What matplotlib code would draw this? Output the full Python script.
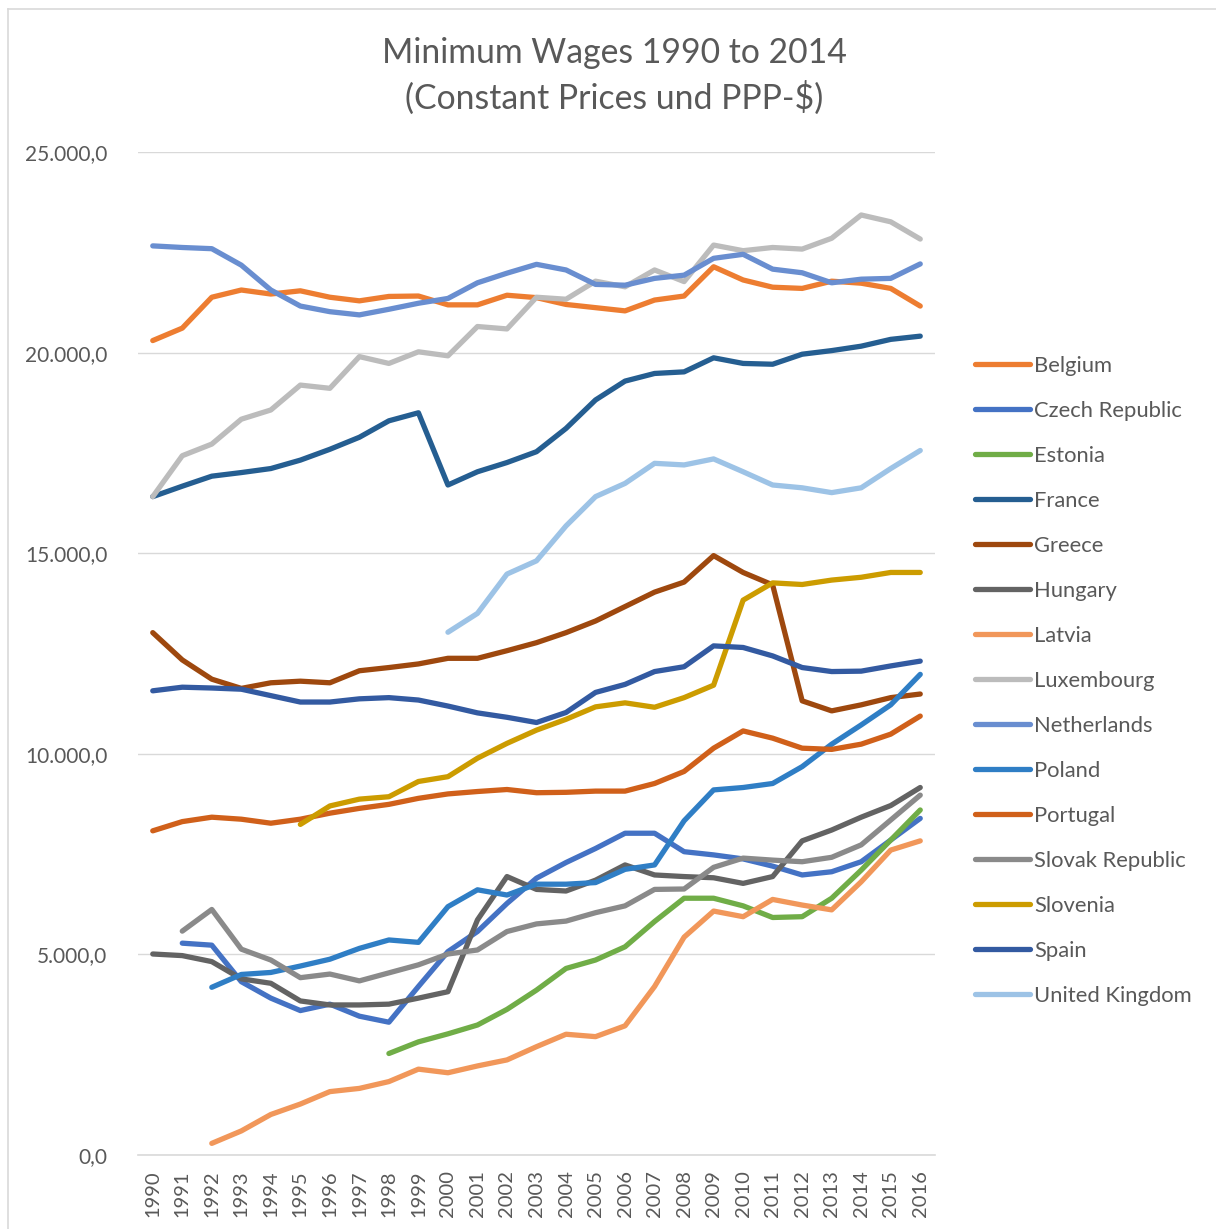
import numpy as np
import matplotlib
matplotlib.use("Agg")
import matplotlib.pyplot as plt
from matplotlib.lines import Line2D
from matplotlib.ticker import FuncFormatter

plt.rcParams['font.family'] = ['Lato', 'DejaVu Sans']

nan = np.nan
years = list(range(1990, 2017))

# minimum wages, constant prices and PPP-$
belgium = [20300, 20610, 21380, 21560, 21460, 21540, 21380, 21290, 21400, 21410, 21190, 21190, 21430, 21370,
           21200, 21120, 21040, 21310, 21410, 22140, 21810, 21630, 21600, 21780, 21730, 21600, 21160]
czech = [nan, 5280, 5230, 4320, 3910, 3600, 3760, 3460, 3310, 4200, 5070, 5570, 6270, 6900,
         7290, 7640, 8020, 8020, 7560, 7480, 7380, 7200, 6980, 7060, 7310, 7850, 8390]
estonia = [nan] * 8 + [2530, 2820, 3020, 3240, 3630, 4110,
                       4650, 4860, 5190, 5820, 6400, 6400, 6210, 5920, 5940, 6400, 7100, 7850, 8600]
france = [16410, 16670, 16920, 17010, 17110, 17320, 17590, 17890, 18300, 18500, 16700, 17030, 17260, 17530,
          18110, 18820, 19290, 19480, 19520, 19870, 19730, 19710, 19960, 20050, 20160, 20330, 20410]
greece = [13020, 12340, 11860, 11630, 11770, 11810, 11770, 12070, 12150, 12240, 12380, 12380, 12570, 12770,
          13020, 13310, 13670, 14030, 14280, 14940, 14520, 14210, 11320, 11070, 11220, 11400, 11490]
hungary = [5010, 4970, 4820, 4390, 4280, 3840, 3740, 3740, 3760, 3910, 4070, 5860, 6940, 6620,
           6580, 6850, 7230, 6980, 6940, 6910, 6770, 6940, 7830, 8100, 8420, 8710, 9160]
latvia = [nan, nan, 290, 600, 1010, 1270, 1580, 1660, 1830, 2140, 2050, 2220, 2370, 2700,
          3010, 2950, 3220, 4200, 5430, 6080, 5940, 6370, 6230, 6110, 6810, 7600, 7830]
luxembourg = [16410, 17430, 17720, 18340, 18570, 19190, 19110, 19900, 19730, 20020, 19920, 20650, 20590, 21380,
              21330, 21780, 21640, 22060, 21770, 22680, 22540, 22620, 22580, 22850, 23430, 23260, 22830]
netherlands = [22660, 22620, 22590, 22180, 21560, 21160, 21020, 20940, 21080, 21230, 21350, 21740, 21980, 22200,
               22060, 21700, 21680, 21850, 21930, 22350, 22450, 22080, 21990, 21740, 21830, 21850, 22210]
poland = [nan, nan, 4180, 4500, 4550, 4710, 4880, 5150, 5360, 5300, 6190, 6610, 6480, 6750,
          6750, 6790, 7120, 7230, 8330, 9100, 9160, 9260, 9680, 10240, 10720, 11220, 11980]
portugal = [8080, 8310, 8420, 8370, 8270, 8370, 8520, 8640, 8740, 8890, 9000, 9060, 9110, 9030,
            9040, 9070, 9070, 9260, 9560, 10140, 10570, 10390, 10140, 10110, 10240, 10490, 10940]
slovak = [nan, 5580, 6120, 5130, 4860, 4420, 4510, 4340, 4540, 4740, 5010, 5110, 5570, 5760,
          5830, 6040, 6210, 6620, 6630, 7170, 7400, 7350, 7310, 7420, 7730, 8350, 8970]
slovenia = [nan] * 5 + [8240, 8700, 8870, 8930, 9310, 9430, 9890, 10260, 10590,
                        10860, 11170, 11270, 11160, 11400, 11710, 13830, 14260, 14220, 14330, 14400, 14520, 14520]
spain = [11570, 11660, 11640, 11610, 11450, 11290, 11290, 11370, 11400, 11340, 11190, 11020, 10910, 10780,
         11030, 11530, 11730, 12050, 12170, 12690, 12650, 12440, 12150, 12050, 12060, 12190, 12310]
uk = [nan] * 10 + [13030, 13500, 14480, 14810,
                   15680, 16410, 16740, 17240, 17200, 17350, 17030, 16700, 16630, 16510, 16630, 17110, 17560]

countries = ["Belgium", "Czech Republic", "Estonia", "France", "Greece", "Hungary", "Latvia",
             "Luxembourg", "Netherlands", "Poland", "Portugal", "Slovak Republic", "Slovenia",
             "Spain", "United Kingdom"]
series = [belgium, czech, estonia, france, greece, hungary, latvia,
          luxembourg, netherlands, poland, portugal, slovak, slovenia, spain, uk]
colors = ["#ED7D31", "#4472C4", "#70AD47", "#255E91", "#9E480E", "#636363", "#F1975A",
          "#BCBCBC", "#698ED0", "#2F7EC5", "#D0601A", "#8A8A8A", "#CC9C00", "#335AA1", "#9DC3E6"]

txt = "#595959"
grid = "#D9D9D9"

fig = plt.figure(figsize=(12.16, 12.29), dpi=100)
ax = fig.add_axes([138 / 1216, 1 - 1155 / 1229, (935 - 138) / 1216, (1155 - 152) / 1229])

for name, vals, c in zip(countries, series, colors):
    ax.plot(years, vals, color=c, lw=3.8, label=name, solid_capstyle='round', solid_joinstyle='round')

ax.set_xlim(1989.5, 2016.5)
ax.set_ylim(0, 25000)
ax.set_yticks(range(0, 25001, 5000))
ax.yaxis.set_major_formatter(FuncFormatter(lambda v, p: f"{int(v):,}".replace(",", ".") + ",0"))
ax.set_xticks(years)
ax.set_xticklabels([str(y) for y in years], rotation=90, va='top')
ax.grid(axis='y', color=grid, lw=1)
ax.set_axisbelow(True)
for s in ['top', 'right', 'left']:
    ax.spines[s].set_visible(False)
ax.spines['bottom'].set_color(grid)
ax.spines['bottom'].set_linewidth(1.2)
ax.tick_params(axis='both', length=0, colors=txt)
ax.tick_params(axis='y', pad=22, labelsize=15)
ax.tick_params(axis='x', pad=11, labelsize=14.5)

fig.text(614 / 1216, 1 - 53 / 1229, "Minimum Wages 1990 to 2014", ha='center', va='center', fontsize=24.3, color=txt)
fig.text(614 / 1216, 1 - 98 / 1229, "(Constant Prices und PPP-$)", ha='center', va='center', fontsize=24.3, color=txt)

fig.legend(loc='center left', bbox_to_anchor=(975 / 1216, 1 - 681 / 1229), frameon=False,
           fontsize=15.8, handlelength=2.5, handletextpad=0.18, labelspacing=1.14, borderpad=0,
           borderaxespad=0, labelcolor=txt)

# chart area border (left and top edges visible)
fig.add_artist(Line2D([7.5 / 1216, 7.5 / 1216], [0, 1 - 8.5 / 1229], transform=fig.transFigure, color=grid, lw=1.2))
fig.add_artist(Line2D([7.5 / 1216, 1], [1 - 8.5 / 1229, 1 - 8.5 / 1229], transform=fig.transFigure, color=grid, lw=1.2))

fig.savefig("out.png", dpi=100, facecolor='white')
